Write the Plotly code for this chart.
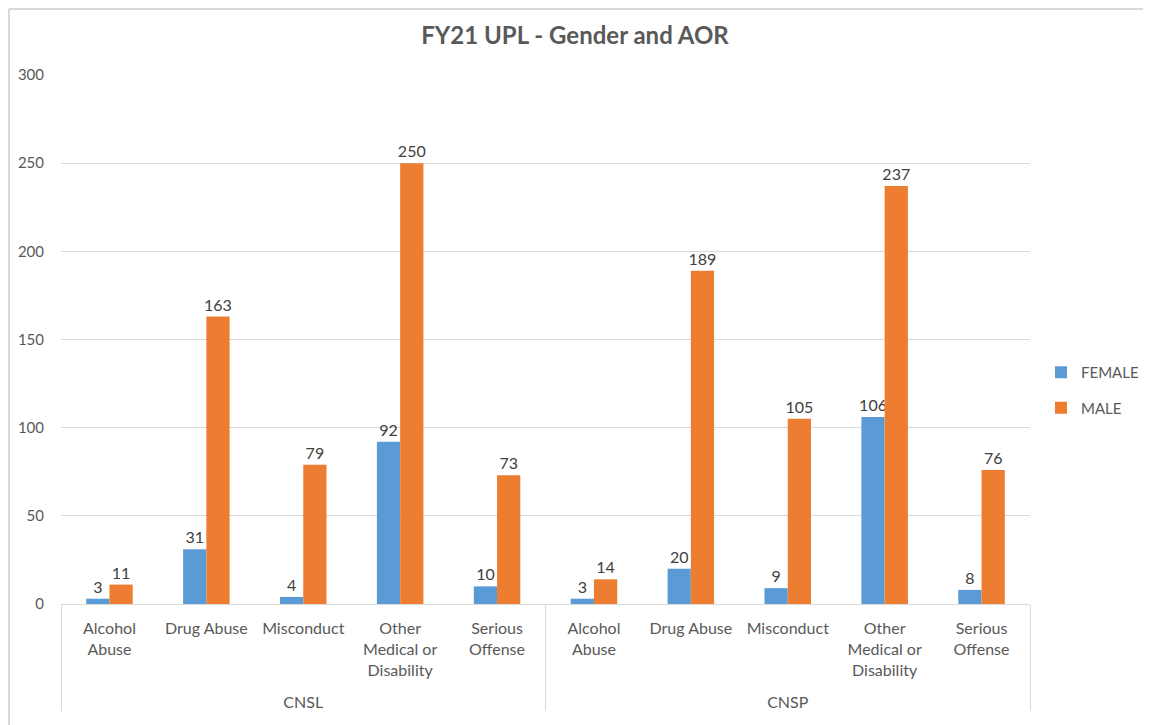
import plotly.graph_objects as go

groups = ["CNSL"] * 5 + ["CNSP"] * 5
categories = ["Alcohol<br>Abuse", "Drug Abuse", "Misconduct", "Other<br>Medical or<br>Disability<br>\u00a0", "Serious<br>Offense"] * 2
female = [3, 31, 4, 92, 10, 3, 20, 9, 106, 8]
male = [11, 163, 79, 250, 73, 14, 189, 105, 237, 76]
y_ticks = [0, 50, 100, 150, 200, 250, 300]

FONT = "Lato, 'Open Sans', sans-serif"
TXT = "#595959"

fig = go.Figure()
fig.add_trace(go.Bar(
    x=[groups, categories], y=female, name="FEMALE", legendgroup="f",
    marker=dict(color="#5B9BD5", line=dict(width=0)),
    text=female, textposition="outside", cliponaxis=False, constraintext="none",
    textfont=dict(size=16, color="#404040", family=FONT),
))
fig.add_trace(go.Bar(
    x=[groups, categories], y=male, name="MALE", legendgroup="m",
    marker=dict(color="#ED7D31", line=dict(width=0)),
    text=male, textposition="outside", cliponaxis=False, constraintext="none",
    textfont=dict(size=16, color="#404040", family=FONT),
))

L, T, W, H = 53, 67, 1151, 725
R, B = 129, 129
PW, PH = W - L - R, H - T - B

def px(xf):
    return (xf - L) / PW

def py(yf):
    return (H - B - yf) / PH

fig.update_layout(
    width=W, height=H,
    margin=dict(l=L, r=R, t=T, b=B, autoexpand=False),
    paper_bgcolor="white", plot_bgcolor="white",
    barmode="group", bargap=0.52, bargroupgap=0,
    font=dict(family=FONT, color=TXT, size=16),
    title=dict(text="<b>FY21 UPL - Gender and AOR</b>", x=567 / W, xanchor="center", xref="container",
               y=1 - 28 / H, yanchor="middle", font=dict(size=24, color=TXT, family=FONT)),
    legend=dict(xref="container", yref="container", x=1033 / W, xanchor="left",
                y=1 - 382 / H, yanchor="middle",
                font=dict(size=15, color=TXT), tracegroupgap=13, itemwidth=30,
                traceorder="grouped"),
    xaxis=dict(type="multicategory", showline=True, linecolor="#D9D9D9", linewidth=1,
               showdividers=True, dividercolor="#D9D9D9", dividerwidth=1,
               tickfont=dict(size=16, color=TXT), ticks="", ticklabelstandoff=10),
    yaxis=dict(range=[0, 300], tickvals=y_ticks, showgrid=True, gridcolor="#D9D9D9",
               gridwidth=1, zeroline=False, showline=False, ticks="outside",
               ticklen=13, tickcolor="rgba(0,0,0,0)", tickfont=dict(size=15, color=TXT)),
    shapes=[
        dict(type="line", xref="paper", yref="paper", x0=px(1), x1=px(W), y0=py(1), y1=py(1),
             line=dict(color="#D9D9D9", width=2), layer="below"),
        dict(type="line", xref="paper", yref="paper", x0=px(1), x1=px(1), y0=py(1), y1=py(H),
             line=dict(color="#D9D9D9", width=2), layer="below"),
    ],
)

fig.write_html("out.html")
